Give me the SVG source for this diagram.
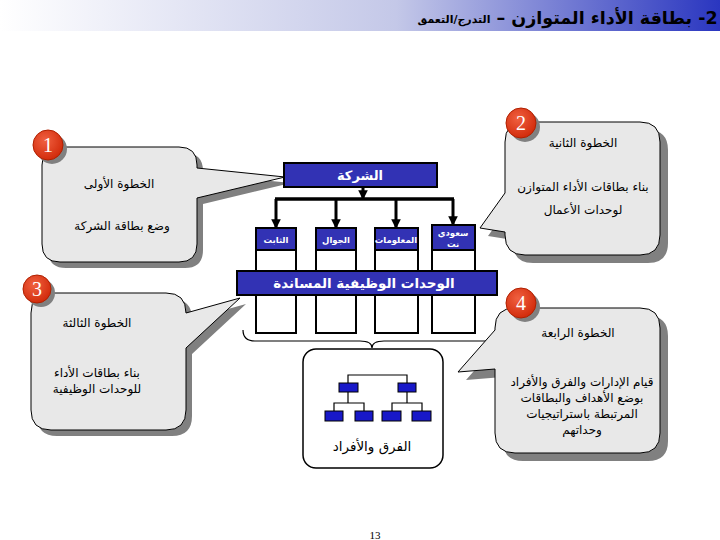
<svg xmlns="http://www.w3.org/2000/svg" width="720" height="540" viewBox="0 0 720 540">
<defs>
<linearGradient id="tg" x1="0" y1="0" x2="1" y2="0">
<stop offset="0" stop-color="#ffffff"/>
<stop offset="0.55" stop-color="#c4c8e8"/>
<stop offset="1" stop-color="#2a36c0"/>
</linearGradient>
<radialGradient id="cg" cx="0.4" cy="0.35" r="0.7">
<stop offset="0" stop-color="#f06040"/>
<stop offset="1" stop-color="#d02808"/>
</radialGradient>
<marker id="ah" viewBox="0 0 10 10" refX="8" refY="5" markerWidth="3.2" markerHeight="3.2" orient="auto">
<path d="M0,0 L10,5 L0,10 Z" fill="#000"/>
</marker>
</defs>
<style>
.ar{font-family:"DejaVu Sans","Noto Sans",sans-serif;}
.ct{font-size:12px;fill:#000;text-anchor:middle;}
.call{fill:#e8e8e8;stroke:#000;stroke-width:1;}
.sh{fill:#808080;}
.blue{fill:#3232b4;stroke:#000;stroke-width:2;}
.col{fill:#fff;stroke:#000;stroke-width:2;}
.wt{fill:#fff;font-weight:bold;text-anchor:middle;}
.num{font-family:"Liberation Serif",serif;font-size:20px;fill:#fff;text-anchor:middle;}
.mb{fill:#1818c8;stroke:#000;stroke-width:1;}
.ln{stroke:#000;stroke-width:1.2;fill:none;}
</style>
<rect x="0" y="0" width="720" height="31" fill="url(#tg)"/>
<g id="title">
<text class="ar" x="607" y="24" font-size="17.5" font-weight="bold" fill="#000" text-anchor="middle" direction="rtl">2- بطاقة الأداء المتوازن –</text>
<text class="ar" x="454" y="23" font-size="11" font-weight="bold" fill="#000" text-anchor="middle" direction="rtl">التدرج/التعمق</text>
</g>

<g id="connectors">
<path class="ln" d="M243,330 Q243,341 255,341 H360 Q372,341 372,348 Q372,341 384,341 H485 Q497,341 497,330"/>
<line x1="363" y1="187" x2="363" y2="198" stroke="#000" stroke-width="3" marker-end="url(#ah)"/>
<line x1="275" y1="199" x2="454" y2="199" stroke="#000" stroke-width="3.5"/>
<line x1="276" y1="199" x2="276" y2="227" stroke="#000" stroke-width="3" marker-end="url(#ah)"/>
<line x1="336" y1="199" x2="336" y2="227" stroke="#000" stroke-width="3" marker-end="url(#ah)"/>
<line x1="396" y1="199" x2="396" y2="227" stroke="#000" stroke-width="3" marker-end="url(#ah)"/>
<line x1="453" y1="199" x2="453" y2="224" stroke="#000" stroke-width="3" marker-end="url(#ah)"/>
</g>

<g id="step1">
<path class="sh" transform="translate(6,6)" d="M60,147 H179 Q197,147 197,165 V168 L285,177 L197,198 V244 Q197,262 179,262 H60 Q42,262 42,244 V165 Q42,147 60,147 Z"/>
<path class="call" d="M60,147 H179 Q197,147 197,165 V168 L285,177 L197,198 V244 Q197,262 179,262 H60 Q42,262 42,244 V165 Q42,147 60,147 Z"/>
<circle cx="52" cy="149" r="15" class="sh"/>
<circle cx="48" cy="145" r="15" fill="url(#cg)" stroke="#b02000" stroke-width="1"/>
<text class="num" x="48" y="152">1</text>
<text class="ar ct" x="119" y="188" direction="rtl">الخطوة الأولى</text>
<text class="ar ct" x="122" y="230" direction="rtl">وضع بطاقة الشركة</text>
</g>

<g id="step2">
<path class="sh" transform="translate(8,8)" d="M525,122 H640 Q660,122 660,142 V235 Q660,255 640,255 H525 Q505,255 505,235 V232 L480,228 L505,193 V142 Q505,122 525,122 Z"/>
<path class="call" d="M525,122 H640 Q660,122 660,142 V235 Q660,255 640,255 H525 Q505,255 505,235 V232 L480,228 L505,193 V142 Q505,122 525,122 Z"/>
<circle cx="525" cy="127" r="15" class="sh"/>
<circle cx="521" cy="123" r="15" fill="url(#cg)" stroke="#b02000" stroke-width="1"/>
<text class="num" x="521" y="130">2</text>
<text class="ar ct" x="583" y="147" direction="rtl">الخطوة الثانية</text>
<text class="ar ct" x="583" y="191" direction="rtl">بناء بطاقات الأداء المتوازن</text>
<text class="ar ct" x="583" y="214" direction="rtl">لوحدات الأعمال</text>
</g>

<g id="step3">
<path class="sh" transform="translate(6,6)" d="M51,293 H166 Q186,293 186,313 L240,298 L186,348 V410 Q186,430 166,430 H51 Q31,430 31,410 V313 Q31,293 51,293 Z"/>
<path class="call" d="M51,293 H166 Q186,293 186,313 L240,298 L186,348 V410 Q186,430 166,430 H51 Q31,430 31,410 V313 Q31,293 51,293 Z"/>
<circle cx="41" cy="293" r="14" class="sh"/>
<circle cx="37" cy="289" r="14" fill="url(#cg)" stroke="#b02000" stroke-width="1"/>
<text class="num" x="37" y="296">3</text>
<text class="ar ct" x="97" y="327" direction="rtl">الخطوة الثالثة</text>
<text class="ar ct" x="97" y="377" direction="rtl">بناء بطاقات الأداء</text>
<text class="ar ct" x="97" y="393" direction="rtl">للوحدات الوظيفية</text>
</g>

<g id="step4">
<path class="sh" transform="translate(8,8)" d="M515,308 H640 Q660,308 660,328 V433 Q660,453 640,453 H515 Q495,453 495,433 V369 L458,372 L495,330 V328 Q495,308 515,308 Z"/>
<path class="call" d="M515,308 H640 Q660,308 660,328 V433 Q660,453 640,453 H515 Q495,453 495,433 V369 L458,372 L495,330 V328 Q495,308 515,308 Z"/>
<circle cx="525" cy="307" r="15" class="sh"/>
<circle cx="521" cy="303" r="15" fill="url(#cg)" stroke="#b02000" stroke-width="1"/>
<text class="num" x="521" y="310">4</text>
<text class="ar ct" x="578" y="337" direction="rtl">الخطوة الرابعة</text>
<text class="ar ct" x="582" y="386" direction="rtl">قيام الإدارات والفرق والأفراد</text>
<text class="ar ct" x="582" y="402" direction="rtl">بوضع الأهداف والبطاقات</text>
<text class="ar ct" x="582" y="418" direction="rtl">المرتبطة باستراتيجيات</text>
<text class="ar ct" x="582" y="434" direction="rtl">وحداتهم</text>
</g>

<g id="company">
<rect class="blue" x="284" y="163" width="153" height="24"/>
<text class="ar wt" x="360" y="180" font-size="13" direction="rtl">الشركة</text>
</g>

<g id="unit-fixed">
<rect class="col" x="256" y="250" width="40" height="83"/>
<rect class="blue" x="256" y="228" width="40" height="22"/>
<text class="ar wt" x="276" y="243" font-size="8.5" direction="rtl">الثابت</text>
</g>
<g id="unit-mobile">
<rect class="col" x="316" y="250" width="40" height="83"/>
<rect class="blue" x="316" y="228" width="40" height="22"/>
<text class="ar wt" x="336" y="243" font-size="8.5" direction="rtl">الجوال</text>
</g>
<g id="unit-info">
<rect class="col" x="375" y="250" width="43" height="83"/>
<rect class="blue" x="375" y="228" width="43" height="22"/>
<text class="ar wt" x="396" y="243" font-size="8.5" direction="rtl">المعلومات</text>
</g>
<g id="unit-saudinet">
<rect class="col" x="432" y="250" width="43" height="83"/>
<rect class="blue" x="432" y="225" width="43" height="25"/>
<text class="ar wt" x="453" y="236" font-size="8.5" direction="rtl">سعودي</text>
<text class="ar wt" x="453" y="247" font-size="8.5" direction="rtl">نت</text>
</g>

<g id="support-units">
<rect class="blue" x="237" y="271" width="260" height="24"/>
<text class="ar wt" x="364" y="288" font-size="13.5" direction="rtl">الوحدات الوظيفية المساندة</text>
</g>

<g id="teams">
<rect x="303" y="349" width="140" height="119" rx="13" fill="#fff" stroke="#000" stroke-width="1.5"/>
<path class="ln" d="M348,383 V375 H407 V383 M348,392 V403 M334,411 V403 H364 V411 M407,392 V403 M392,411 V403 H422 V411"/>
<rect class="mb" x="339" y="383" width="19" height="9"/>
<rect class="mb" x="398" y="383" width="18" height="9"/>
<rect class="mb" x="325" y="411" width="18" height="10"/>
<rect class="mb" x="355" y="411" width="18" height="10"/>
<rect class="mb" x="382" y="411" width="19" height="10"/>
<rect class="mb" x="412" y="411" width="19" height="10"/>
<text class="ar" x="372" y="451" font-size="13.5" text-anchor="middle" direction="rtl">الفرق والأفراد</text>
</g>

<text x="375" y="539" font-family="Liberation Serif,serif" font-size="11" text-anchor="middle">13</text>
</svg>
